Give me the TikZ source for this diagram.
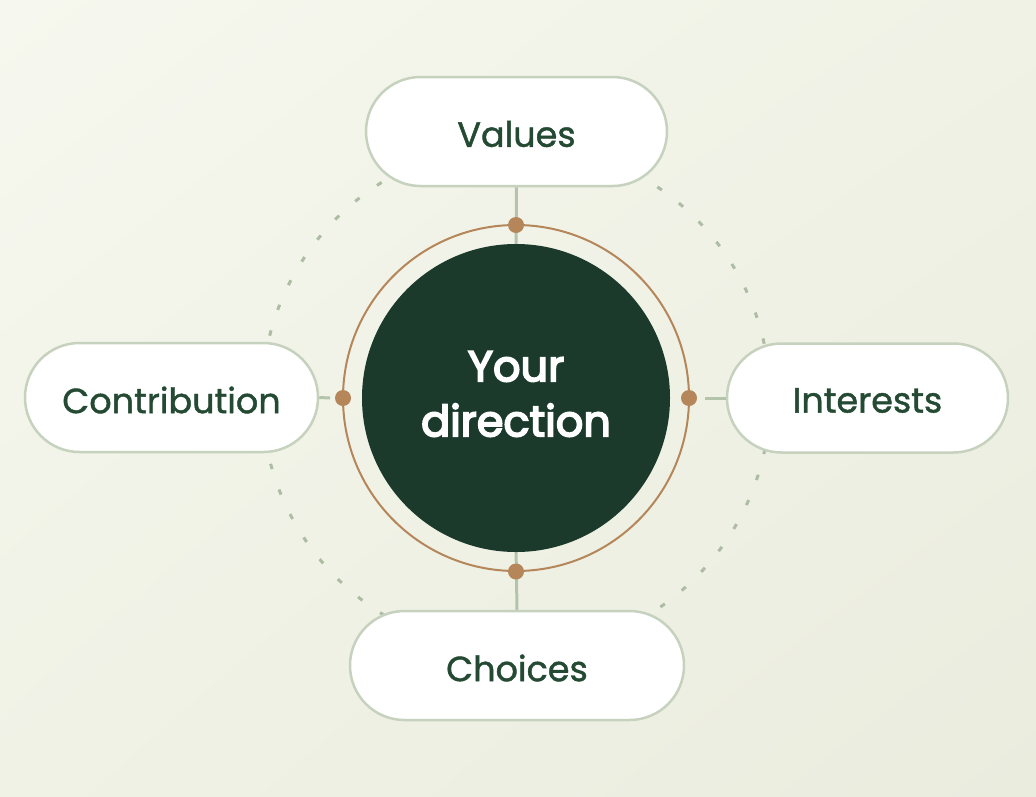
\documentclass[tikz,border=0pt]{standalone}
\usepackage{fontspec}
\setmainfont{Poppins}
\newfontfamily\labelfont{Poppins}[FakeBold=1.2]
\newfontfamily\corefont{Poppins}[FakeBold=4]
\usetikzlibrary{shapes.misc,shadings}
\definecolor{bgA}{HTML}{F6F7EE}
\definecolor{bgB}{HTML}{EAECDE}
\definecolor{bgC}{HTML}{F0F2E6}
\definecolor{darkg}{HTML}{1B3A2C}
\definecolor{ringc}{HTML}{B5865A}
\definecolor{pillb}{HTML}{C6D2BE}
\definecolor{linkc}{HTML}{B3C4AA}
\definecolor{dashc}{HTML}{AEBCA4}
\definecolor{txtc}{HTML}{254A33}
\tikzset{
  pill/.style={rounded rectangle, draw=pillb, line width=2.5pt, fill=white,
    minimum height=109pt, inner sep=0pt, text=txtc},
  pilltext/.style={text=txtc, inner sep=0pt, font=\labelfont\fontsize{35}{40}\selectfont},
  link/.style={draw=linkc, line width=3pt},
  knob/.style={circle, fill=ringc, minimum size=16pt, inner sep=0pt},
}
\begin{document}
\begin{tikzpicture}[x=1pt,y=-1pt]
\shade[upper left=bgA, upper right=bgC, lower left=bgC, lower right=bgB] (0,0) rectangle (1036,796);
\useasboundingbox (0,0) rectangle (1036,796);
\coordinate (c) at (516,398);
% dashed orbit
\draw[dashc, line width=3pt, dash pattern=on 5.5pt off 21.5pt, dash phase=3pt] (c) circle (254);
% pills
\node[pill, minimum width=301pt] (values) at (516.5,131.5) {};
\node[pill, minimum width=293pt] (contrib) at (171.5,397.5) {};
\node[pill, minimum width=281pt] (interests) at (867.5,398) {};
\node[pill, minimum width=334pt] (choices) at (517,665.5) {};
\node[pilltext] (tvalues) at ([yshift=-2.5pt]values.center) {Values};
\node[pilltext] (tcontrib) at ([yshift=-2.5pt]contrib.center) {Contribution};
\node[pilltext] (tinterests) at ([yshift=-2.5pt]interests.center) {Interests};
\node[pilltext] (tchoices) at ([yshift=-2.5pt]choices.center) {Choices};
% connectors
\coordinate (lend) at (330,398);
\coordinate (rend) at (705,398);
\coordinate (tend) at (516,250);
\coordinate (bend) at (516,546);
\draw[link] (values.south) -- (tend);
\draw[link] (bend) -- (choices.north);
\draw[link] (contrib.east) -- (lend);
\draw[link] (rend) -- (interests.west);
% ring and core
\draw[ringc, line width=2pt] (c) circle (173);
\node[circle, fill=darkg, minimum size=308pt, inner sep=0pt] (core) at (c) {};
\node[text=white, align=center, inner sep=0pt,
  font=\corefont\fontsize{43}{55}\selectfont] (coretext) at ([yshift=4pt]core.center) {Your\\direction};
\node[knob] (kt) at (516,225) {};
\node[knob] (kb) at (516,571.5) {};
\node[knob] (kl) at (343,398) {};
\node[knob] (kr) at (689,398) {};
\end{tikzpicture}
\end{document}
